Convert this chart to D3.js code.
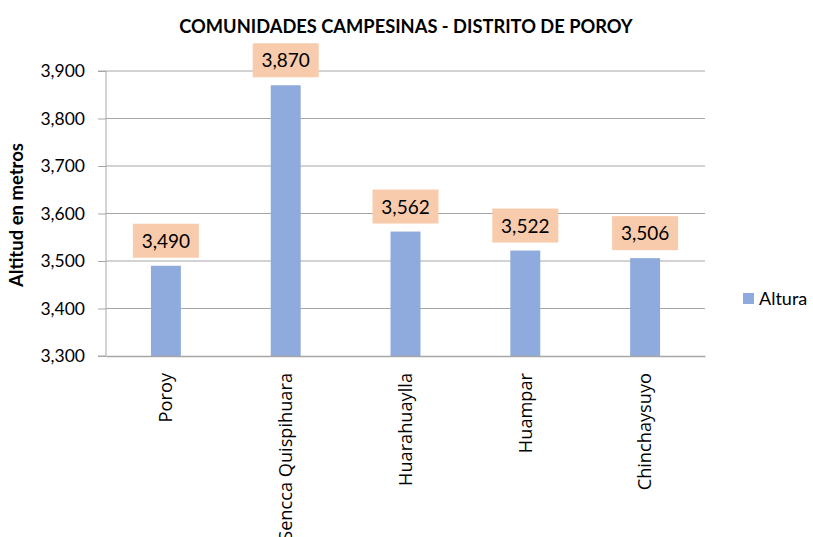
<!DOCTYPE html>
<html><head><meta charset="utf-8">
<script src="https://cdn.jsdelivr.net/npm/d3@7"></script>
<style>body{margin:0;background:#fff}</style>
</head><body>
<svg id="c" width="813" height="537"></svg>
<script>
const categories = ["Poroy","Sencca Quispihuara","Huarahuaylla","Huampar","Chinchaysuyo"];
const values = [3490, 3870, 3562, 3522, 3506];
const yTicks = [3300, 3400, 3500, 3600, 3700, 3800, 3900];
const seriesName = "Altura";
const title = "COMUNIDADES CAMPESINAS - DISTRITO DE POROY";
const yTitle = "Altitud en metros";

const svg = d3.select("#c");
const L = 106, R = 705, T = 71, B = 356;
const x = d3.scaleBand().domain(categories).range([L, R]).paddingInner(0.75).paddingOuter(0.375);
const y = d3.scaleLinear().domain([3300, 3900]).range([B, T]);
const fmt = d3.format(",");

svg.append("text").attr("x", 406).attr("y", 33).attr("text-anchor", "middle")
  .attr("font-family", "Lato, sans-serif").attr("font-weight", "bold").attr("font-size", 18.3)
  .text(title);

// gridlines
svg.append("g").selectAll("line").data(yTicks.slice(1)).join("line")
  .attr("x1", L).attr("x2", R).attr("y1", d => y(d)).attr("y2", d => y(d))
  .attr("stroke", "#a6a6a6").attr("stroke-width", 1);
const yAxis = d3.axisLeft(y).tickValues(yTicks).tickFormat(fmt).tickSize(8).tickPadding(13);
const gy = svg.append("g").attr("transform", `translate(${L},0)`).call(yAxis);
gy.select(".domain").attr("stroke", "#a6a6a6").attr("d", `M-8,${T}H0V${B}H-8`);
gy.selectAll(".tick line").attr("stroke", "#a6a6a6");
gy.selectAll(".tick text").attr("font-family", "Lato, sans-serif").attr("font-size", 17.5).attr("fill", "#000");

// bars
svg.append("g").selectAll("rect").data(values).join("rect")
  .attr("x", (d, i) => x(categories[i])).attr("width", x.bandwidth())
  .attr("y", d => y(d)).attr("height", d => y(3300) - y(d))
  .attr("fill", "#8faadc");

// x axis
const xAxis = d3.axisBottom(x).tickSize(0).tickPadding(0);
const gx = svg.append("g").attr("transform", `translate(0,${B})`).call(xAxis);
gx.select(".domain").attr("stroke", "#a6a6a6").attr("stroke-width", 1.5);
gx.selectAll(".tick text").attr("font-family", "'Open Sans', sans-serif").attr("font-size", 18.2)
  .attr("fill", "#000").attr("text-anchor", "end").attr("dy", "0.35em")
  .attr("transform", "translate(0,17) rotate(-90)").attr("x", 0).attr("y", 0);

// data labels
const lbl = svg.append("g").selectAll("g").data(values).join("g")
  .attr("transform", (d, i) => `translate(${x(categories[i]) + x.bandwidth() / 2},${y(d) - 8})`);
lbl.append("rect").attr("x", -33).attr("y", -34).attr("width", 66).attr("height", 34).attr("fill", "#f8cbad");
lbl.append("text").attr("x", 0).attr("y", -10).attr("text-anchor", "middle")
  .attr("font-family", "Lato, sans-serif").attr("font-size", 19).text(d => fmt(d));

// y title
svg.append("text").attr("transform", "translate(23,215) rotate(-90)").attr("text-anchor", "middle")
  .attr("font-family", "Lato, sans-serif").attr("font-weight", "bold").attr("font-size", 18.5)
  .text(yTitle);

// legend
svg.append("rect").attr("x", 743).attr("y", 293).attr("width", 11).attr("height", 11).attr("fill", "#8faadc");
svg.append("text").attr("x", 759).attr("y", 305).attr("font-family", "Lato, sans-serif").attr("font-size", 18).text(seriesName);
</script>
</body></html>
